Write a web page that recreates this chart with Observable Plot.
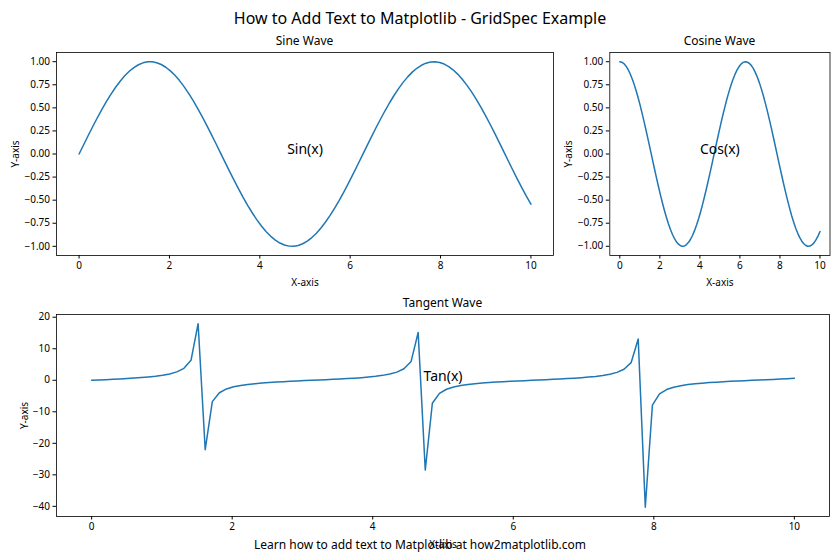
<!DOCTYPE html>
<html><head><meta charset="utf-8">
<script src="https://cdn.jsdelivr.net/npm/d3@7"></script>
<script src="https://cdn.jsdelivr.net/npm/@observablehq/plot@0.6"></script>
<style>
body{margin:0;background:#fff;}
#fig{position:relative;width:840px;height:560px;font-family:"Noto Sans",sans-serif;color:#000;overflow:hidden;background:#fff}
.t{position:absolute;white-space:nowrap;transform:translate(-50%,-50%);line-height:1}
.panel{position:absolute}
.panel svg{overflow:visible}
</style></head><body>
<div id="fig">
<div class="t" style="left:420px;top:18px;font-size:16px">How to Add Text to Matplotlib - GridSpec Example</div>
<div class="t" style="left:304.5px;top:41px;font-size:12px">Sine Wave</div>
<div class="t" style="left:719.5px;top:41px;font-size:12px">Cosine Wave</div>
<div class="t" style="left:442.5px;top:303px;font-size:12px">Tangent Wave</div>
<div class="panel" id="p1" style="left:0px;top:30px"></div>
<div class="panel" id="p2" style="left:560px;top:30px"></div>
<div class="panel" id="p3" style="left:0px;top:290px"></div>
<div class="t" style="left:420px;top:545px;font-size:12px">Learn how to add text to Matplotlib at how2matplotlib.com</div>
</div>
<script>
const xs = [
0,0.101,0.202,0.303,0.404,0.5051,0.6061,0.7071,0.8081,0.9091,
1.0101,1.1111,1.2121,1.3131,1.4141,1.5152,1.6162,1.7172,1.8182,1.9192,
2.0202,2.1212,2.2222,2.3232,2.4242,2.5253,2.6263,2.7273,2.8283,2.9293,
3.0303,3.1313,3.2323,3.3333,3.4343,3.5354,3.6364,3.7374,3.8384,3.9394,
4.0404,4.1414,4.2424,4.3434,4.4444,4.5455,4.6465,4.7475,4.8485,4.9495,
5.0505,5.1515,5.2525,5.3535,5.4545,5.5556,5.6566,5.7576,5.8586,5.9596,
6.0606,6.1616,6.2626,6.3636,6.4646,6.5657,6.6667,6.7677,6.8687,6.9697,
7.0707,7.1717,7.2727,7.3737,7.4747,7.5758,7.6768,7.7778,7.8788,7.9798,
8.0808,8.1818,8.2828,8.3838,8.4848,8.5859,8.6869,8.7879,8.8889,8.9899,
9.0909,9.1919,9.2929,9.3939,9.4949,9.596,9.697,9.798,9.899,10];
const sinY = [
0,0.1008,0.2006,0.2984,0.3931,0.4839,0.5697,0.6496,0.7230,0.7890,
0.8469,0.8962,0.9364,0.9670,0.9877,0.9985,0.9990,0.9893,0.9696,0.9399,
0.9007,0.8523,0.7952,0.7300,0.6574,0.5781,0.4928,0.4026,0.3082,0.2107,
0.1111,0.0103,-0.0906,-0.1906,-0.2886,-0.3837,-0.4748,-0.5612,-0.6418,-0.7158,
-0.7826,-0.8414,-0.8916,-0.9327,-0.9643,-0.9861,-0.9978,-0.9994,-0.9908,-0.9720,
-0.9434,-0.9051,-0.8576,-0.8014,-0.7370,-0.6651,-0.5864,-0.5017,-0.4120,-0.3180,
-0.2207,-0.1213,-0.0206,0.0804,0.1805,0.2787,0.3742,0.4658,0.5526,0.6338,
0.7086,0.7761,0.8358,0.8869,0.9289,0.9615,0.9843,0.9971,0.9997,0.9921,
0.9744,0.9467,0.9094,0.8629,0.8075,0.7439,0.6727,0.5947,0.5106,0.4213,
0.3277,0.2308,0.1315,0.0308,-0.0701,-0.1703,-0.2688,-0.3646,-0.4566,-0.5440];
const cosY = [
1,0.9949,0.9797,0.9544,0.9195,0.8751,0.8219,0.7602,0.6909,0.6145,
0.5318,0.4437,0.3511,0.2549,0.1561,0.0556,-0.0454,-0.1459,-0.2449,-0.3414,
-0.4344,-0.5230,-0.6063,-0.6834,-0.7536,-0.8160,-0.8701,-0.9154,-0.9513,-0.9775,
-0.9938,-0.9999,-0.9959,-0.9817,-0.9575,-0.9235,-0.8801,-0.8277,-0.7669,-0.6983,
-0.6225,-0.5405,-0.4529,-0.3606,-0.2648,-0.1662,-0.0659,0.0351,0.1357,0.2349,
0.3317,0.4251,0.5142,0.5981,0.6759,0.7468,0.8100,0.8650,0.9112,0.9481,
0.9753,0.9926,0.9998,0.9968,0.9836,0.9604,0.9274,0.8849,0.8334,0.7735,
0.7056,0.6306,0.5491,0.4620,0.3702,0.2746,0.1763,0.0761,-0.0248,-0.1255,
-0.2249,-0.3220,-0.4158,-0.5054,-0.5898,-0.6683,-0.7399,-0.8039,-0.8598,-0.9069,
-0.9448,-0.9730,-0.9913,-0.9995,-0.9975,-0.9854,-0.9632,-0.9312,-0.8897,-0.8391];
const tanY = [
0,0.1014,0.2048,0.3127,0.4275,0.5530,0.6931,0.8545,1.0465,1.2839,
1.5925,2.0198,2.6670,3.7940,6.3290,17.953,-22.028,-6.783,-3.9595,-2.7532,
-2.0735,-1.6296,-1.3116,-1.0682,-0.8724,-0.7085,-0.5664,-0.4398,-0.3240,-0.2156,
-0.1118,-0.0103,0.0910,0.1941,0.3014,0.4155,0.5395,0.6780,0.8368,1.0251,
1.2571,1.5568,1.9688,2.5862,3.6424,5.9346,15.147,-28.490,-7.3024,-4.1382,
-2.8440,-2.1290,-1.6678,-1.3399,-1.0905,-0.8907,-0.7240,-0.5800,-0.4521,-0.3354,
-0.2263,-0.1222,-0.0206,0.0806,0.1835,0.2902,0.4035,0.5263,0.6631,0.8195,
1.0043,1.2309,1.5222,1.9197,2.5092,3.5010,5.5837,13.097,-40.305,-7.9061,
-4.3324,-2.9402,-2.1871,-1.7073,-1.3690,-1.1132,-0.9093,-0.7397,-0.5939,-0.4645,
-0.3468,-0.2372,-0.1326,-0.0309,0.0703,0.1729,0.2791,0.3916,0.5133,0.6484];
const xTicks = [0,2,4,6,8,10];
const trigTicks = [-1,-0.75,-0.5,-0.25,0,0.25,0.5,0.75,1];
const tanTicks = [-40,-30,-20,-10,0,10,20];
const annotations = [
  {x:5, y:0, t:"Sin(x)"},
  {x:5, y:0, t:"Cos(x)"},
  {x:5, y:0, t:"Tan(x)"}
];

function padded(vals){
  const [a,b] = d3.extent(vals); const m = (b-a)*0.05; return [a-m, b+m];
}
const font = '"Noto Sans", sans-serif';
function panel(o){
  const data = xs.map((v,i)=>({x:v, y:o.y[i]}));
  return Plot.plot({
    width:o.width, height:o.height,
    marginLeft:o.ml, marginRight:o.mr, marginTop:o.mt, marginBottom:o.mb,
    style:{fontFamily:font, fontSize:"10px", color:"#000", background:"transparent"},
    x:{domain:padded(xs), ticks:xTicks, tickSize:3.5, tickPadding:3, label:"X-axis", labelAnchor:"center", labelArrow:"none", labelOffset:o.xlo},
    y:{domain:padded(o.y), ticks:o.ticks, tickFormat:o.fmt, tickSize:3.5, tickPadding:3, label:"Y-axis", labelAnchor:"center", labelArrow:"none", labelOffset:o.ylo},
    marks:[
      Plot.line(data,{x:"x", y:"y", stroke:"#1f77b4", strokeWidth:1.5}),
      Plot.frame({stroke:"#000", strokeWidth:0.8}),
      Plot.text([o.ann],{x:"x", y:"y", text:"t", fontSize:14, dy:-4, textAnchor:"middle", fill:"#000"})
    ]
  });
}
const f2 = d3.format(".2f");
document.getElementById("p1").append(panel({y:sinY, width:560, height:265, ml:56, mr:7, mt:22, mb:40, ticks:trigTicks, fmt:f2, ann:annotations[0], xlo:30, ylo:45}));
document.getElementById("p2").append(panel({y:cosY, width:280, height:265, ml:49.3, mr:10.5, mt:22, mb:40, ticks:trigTicks, fmt:f2, ann:annotations[1], xlo:30, ylo:45}));
document.getElementById("p3").append(panel({y:tanY, width:840, height:270, ml:56, mr:11, mt:24, mb:44, ticks:tanTicks, fmt:d3.format("d"), ann:annotations[2], xlo:31, ylo:36}));
</script>
</body></html>
